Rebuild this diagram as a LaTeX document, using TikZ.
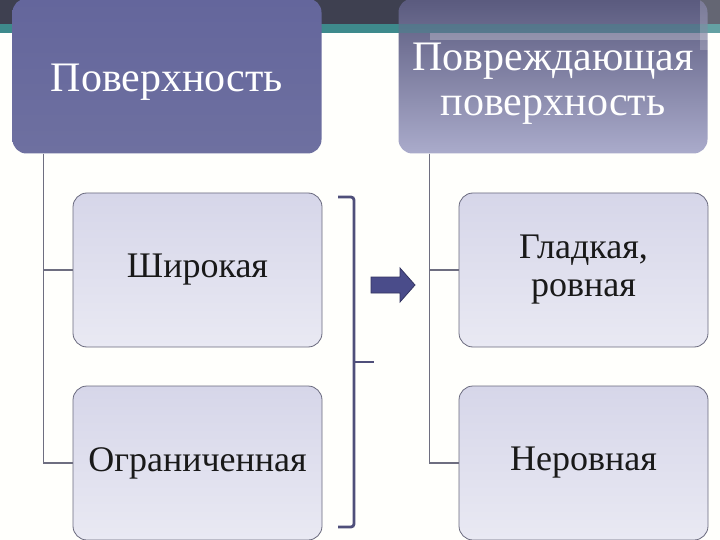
\documentclass[tikz,border=0pt]{standalone}
\usepackage{fontspec}
\setmainfont{Liberation Serif}
\definecolor{bannerdark}{HTML}{3E4050}
\definecolor{bannerteal}{HTML}{3E8A8C}
\definecolor{hdrAtop}{HTML}{64669C}
\definecolor{hdrAbot}{HTML}{6E70A0}
\definecolor{hdrBtop}{HTML}{5A5A7E}
\definecolor{hdrBbot}{HTML}{AAABCB}
\definecolor{kidtop}{HTML}{D6D6E9}
\definecolor{kidbot}{HTML}{E9E9F3}
\definecolor{kidline}{HTML}{6A6A7E}
\definecolor{connc}{HTML}{6E6E80}
\definecolor{brkc}{HTML}{4F4F7A}
\definecolor{arrc}{HTML}{4A4C8A}
\tikzset{
  hdr/.style={rectangle, rounded corners=14pt, inner sep=0pt, minimum width=309pt,
    minimum height=155pt, text=white, align=center, font=\fontsize{42}{45}\selectfont},
  kid/.style={rectangle, rounded corners=14pt, inner sep=0pt, minimum width=249pt,
    minimum height=154pt, draw=kidline, line width=0.8pt, top color=kidtop, bottom color=kidbot,
    align=center, text=black!90, font=\fontsize{36}{38}\selectfont},
  conn/.style={draw=connc, line width=1.6pt},
  brk/.style={draw=brkc, line width=2.8pt, rounded corners=3pt},
}
\begin{document}
\begin{tikzpicture}[x=1pt,y=-1pt]
\useasboundingbox (0,0) rectangle (720,540);
\clip (0,0) rectangle (720,540);
\fill[white!99!yellow] (0,0) rectangle (720,540);
% banner
\fill[bannerdark] (0,0) rectangle (720,24);
\fill[bannerteal] (0,24) rectangle (720,33);
% headers
\node[hdr, top color=hdrAtop, bottom color=hdrAbot] (h1) at (167,76) {\raisebox{0pt}[39pt]{Поверхность}};
\node[hdr, top color=hdrBtop, bottom color=hdrBbot] (h2) at (553,76) {\rule{0pt}{42pt}Повреждающая\\поверхность};
\fill[bannerteal, opacity=0.45] (398,24) rectangle (708,33);
\fill[white, opacity=0.25] (430,33) rectangle (708,40);
\fill[white, opacity=0.2] (700,0) rectangle (720,50);
% children
\node[kid] (a1) at (197.5,270) {Широкая};
\node[kid] (a2) at (197.5,463) {Ограниченная};
\node[kid] (b1) at (583.5,270) {Гладкая,\\ровная};
\node[kid] (b2) at (583.5,463) {Неровная};
% connectors
\coordinate (ta) at ([xshift=31pt]h1.south west);
\coordinate (tb) at ([xshift=31pt]h2.south west);
\draw[conn] (ta) |- (a1.west);
\draw[conn] (ta) |- (a2.west);
\draw[conn] (tb) |- (b1.west);
\draw[conn] (tb) |- (b2.west);
% bracket
\coordinate (bt) at (338,197);
\coordinate (bb) at (338,527);
\coordinate (bm) at (354,362);
\coordinate (bmr) at (374,362);
\draw[brk] (bt) -- (354,197) -- (354,527) -- (bb);
\draw[brkc, line width=2.8pt] (bm) -- (bmr);
% block arrow
\filldraw[fill=arrc, draw=arrc!70!black, line width=0.8pt]
  (371,277) -- (400,277) -- (400,268) -- (415,285) -- (400,302) -- (400,293) -- (371,293) -- cycle;
\end{tikzpicture}
\end{document}
